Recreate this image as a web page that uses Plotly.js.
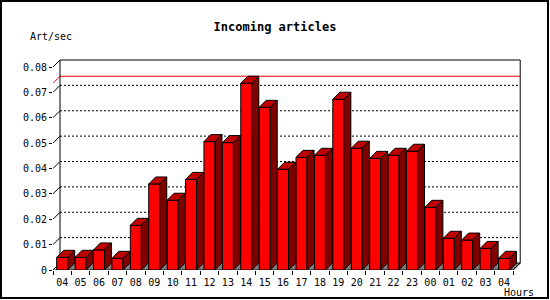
<!DOCTYPE html>
<html>
<head>
<meta charset="utf-8">
<script src="https://cdn.plot.ly/plotly-3.0.1.min.js"></script>
<style>
html,body{margin:0;padding:0;background:#fff;}
#wrap{position:relative;width:550px;height:300px;}
#chart{width:550px;height:300px;}
#frame{position:absolute;left:0;top:0;width:549px;height:299px;box-sizing:border-box;border:2px solid #000;pointer-events:none;}
</style>
</head>
<body>
<div id="wrap"><div id="chart"></div><div id="frame"></div></div>
<script>
// ---- data ----
const hours = ["04","05","06","07","08","09","10","11","12","13","14","15","16","17","18","19","20","21","22","23","00","01","02","03","04"];
const artPerSec = [0.0050,0.0050,0.0079,0.0046,0.0176,0.0339,0.0275,0.0357,0.0506,0.0502,0.0736,0.0641,0.0397,0.0444,0.0452,0.0673,0.0480,0.0440,0.0452,0.0468,0.0247,0.0125,0.0118,0.0085,0.0046];
const yTickVals = [0,0.01,0.02,0.03,0.04,0.05,0.06,0.07,0.08];
const yTickText = ["0","0.01","0.02","0.03","0.04","0.05","0.06","0.07","0.08"];

// ---- 3D look (styling) ----
const DX = 0.38, DY = 0.00276, HALF = 0.3;
const n = hours.length;
const x0 = -0.5, x1 = n - 0.5, yTop = 0.08;
const FONT = "DejaVu Sans Mono, monospace";

function seg(arrX, arrY, pts){ pts.forEach(p=>{arrX.push(p[0]);arrY.push(p[1]);}); arrX.push(null); arrY.push(null); }

const traces = [];
// dotted gridlines on back wall
let gx=[],gy=[];
yTickVals.slice(1, -1).forEach(v=>seg(gx,gy,[[x0+DX,v+DY],[x1+DX,v+DY]]));
traces.push({x:gx,y:gy,mode:'lines',line:{color:'#000',width:1,dash:'2px,2px'},hoverinfo:'skip'});
// small diagonals from front ticks
let dx_=[],dy_=[];
yTickVals.forEach(v=>seg(dx_,dy_,[[x0,v],[x0+DX,v+DY]]));
traces.push({x:dx_,y:dy_,mode:'lines',line:{color:'#000',width:1},hoverinfo:'skip'});
// max line (red)
const vmax = Math.max(...artPerSec);
traces.push({x:[x0,x0+DX,x1+DX],y:[vmax,vmax+DY,vmax+DY],mode:'lines',line:{color:'#ff0000',width:1},hoverinfo:'skip'});
// frame
let fx=[],fy=[];
seg(fx,fy,[[x0,0],[x1,0],[x1+DX,DY],[x1+DX,yTop+DY],[x0+DX,yTop+DY],[x0+DX,DY],[x0,0]]);
traces.push({x:fx,y:fy,mode:'lines',line:{color:'#000',width:1},hoverinfo:'skip'});
// floor (grey)
traces.push({x:[-HALF,x1,x1+DX,-HALF+DX,-HALF],y:[0,0,DY,DY,0],mode:'lines',fill:'toself',fillcolor:'#808080',line:{color:'#000',width:1},hoverinfo:'skip'});
// bars
let frX=[],frY=[],tpX=[],tpY=[],sdX=[],sdY=[];
artPerSec.forEach((v,i)=>{
  const a=i-HALF,b=i+HALF;
  seg(frX,frY,[[a,0],[a,v],[b,v],[b,0],[a,0]]);
  seg(tpX,tpY,[[a,v],[a+DX,v+DY],[b+DX,v+DY],[b,v],[a,v]]);
  seg(sdX,sdY,[[b,0],[b,v],[b+DX,v+DY],[b+DX,DY],[b,0]]);
});
traces.push({x:frX,y:frY,mode:'lines',fill:'toself',fillcolor:'#ff0000',line:{color:'#000',width:1},hoverinfo:'skip'});
traces.push({x:tpX,y:tpY,mode:'lines',fill:'toself',fillcolor:'#c00000',line:{color:'#000',width:1},hoverinfo:'skip'});
traces.push({x:sdX,y:sdY,mode:'lines',fill:'toself',fillcolor:'#800000',line:{color:'#000',width:1},hoverinfo:'skip'});
// tick-mark carrier on x2
traces.push({x:[x0],y:[0],xaxis:'x2',mode:'markers',marker:{opacity:0},hoverinfo:'skip'});

const bounds = []; for(let i=0;i<=n;i++) bounds.push(i-0.5);

const layout = {
  width:550,height:300,
  margin:{l:53,r:25,t:58,b:30},
  paper_bgcolor:'#fff',plot_bgcolor:'rgba(0,0,0,0)',
  showlegend:false,
  title:{text:'<b>Incoming articles</b>',x:0.5,xref:'container',xanchor:'center',y:1,yref:'container',yanchor:'top',pad:{t:23},font:{family:FONT,size:12,color:'#000'}},
  xaxis:{range:[x0,25.14],tickvals:hours.map((h,i)=>i),ticktext:hours,ticks:'outside',ticklen:3,tickcolor:'rgba(0,0,0,0)',showgrid:false,zeroline:false,showline:false,
         tickfont:{family:FONT,size:10,color:'#000'},fixedrange:true},
  xaxis2:{overlaying:'x',anchor:'y',side:'bottom',range:[x0,25.14],tickvals:bounds,ticks:'outside',ticklen:4,tickcolor:'#000',tickwidth:1,
          showticklabels:false,showgrid:false,zeroline:false,showline:false},
  yaxis:{range:[0,0.083547],tickvals:yTickVals,ticktext:yTickText,ticks:'outside',ticklen:3,tickcolor:'#000',tickwidth:1,
         showgrid:false,zeroline:false,showline:false,tickfont:{family:FONT,size:10,color:'#000'},fixedrange:true},
  annotations:[
    {text:'Art/sec',xref:'paper',yref:'paper',x:-0.052,y:1.1,xanchor:'left',yanchor:'middle',showarrow:false,font:{family:FONT,size:10,color:'#000'}},
    {text:'Hours',xref:'paper',yref:'paper',x:1.023,y:-0.105,xanchor:'right',yanchor:'middle',showarrow:false,font:{family:FONT,size:10,color:'#000'}}
  ]
};
Plotly.newPlot('chart',traces,layout,{staticPlot:true});
</script>
</body>
</html>
